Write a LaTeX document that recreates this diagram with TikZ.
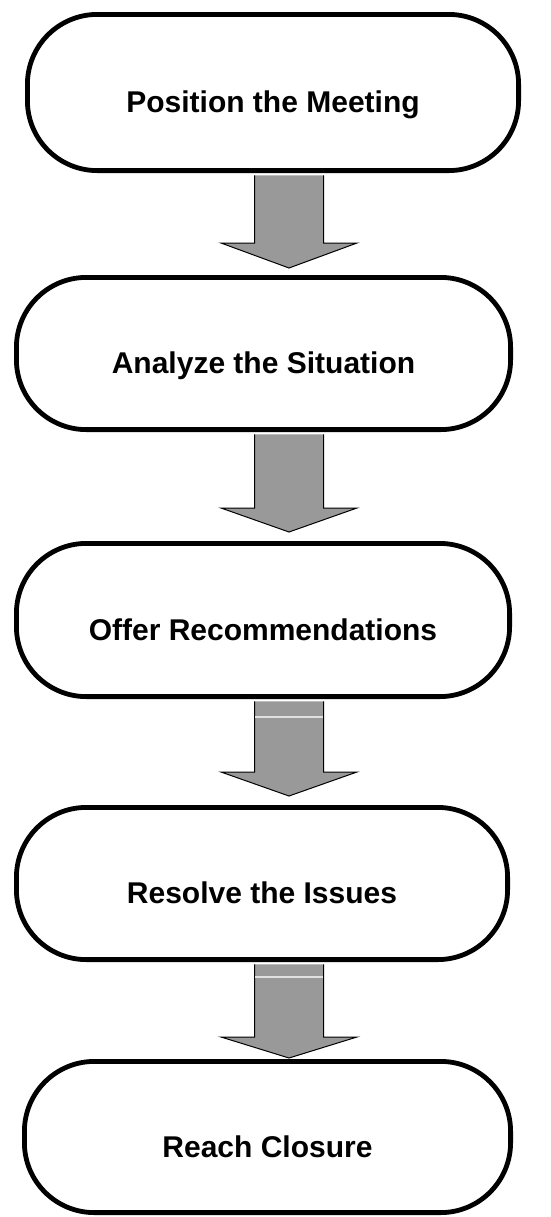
\documentclass[tikz,border=0pt]{standalone}
\usepackage{fontspec}
\setmainfont{Liberation Sans}
\usepackage{tikz}
\usetikzlibrary{calc}
\tikzset{
  stage/.style={draw=black, line width=2.4pt, fill=white, rounded corners=35pt, inner sep=0pt,
    text height=20pt, text depth=0pt, font=\fontsize{15}{18}\selectfont\bfseries},
  flow/.style={draw=black, line width=0.5pt, fill=black!40},
  seam/.style={draw=black!12, line width=1pt},
}
\newcommand{\flowarrow}[3]{%
  \draw[flow] ($(#1.south -| #3)+(-34.5,2.4)$) -- ($(#2)+(-34.5,0)$) -- ($(#2)+(-68,0)$) -- (#3)
    -- ($(#2)+(68,0)$) -- ($(#2)+(34.5,0)$) -- ($(#1.south -| #3)+(34.5,2.4)$);
}

\begin{document}
\begin{tikzpicture}[x=0.5pt, y=-0.5pt]
\useasboundingbox (0,0) rectangle (551,1217);
\coordinate (h1) at (289,243);
\coordinate (t1) at (289,268);
\coordinate (h2) at (289,508);
\coordinate (t2) at (289,532);
\coordinate (h3) at (289,772);
\coordinate (t3) at (289,796);
\coordinate (h4) at (289,1037);
\coordinate (t4) at (289,1058);
\coordinate (s3) at (289,717);
\coordinate (s4) at (289,977);
\node[stage, minimum width=245.6pt, minimum height=78.1pt] (position) at (273,92.5) {Position the Meeting};
\node[stage, minimum width=247.1pt, minimum height=76.1pt] (analyze) at (263.5,353.5) {Analyze the Situation};
\node[stage, minimum width=246.6pt, minimum height=76.6pt] (offer) at (263,620) {Offer Recommendations};
\node[stage, minimum width=245.6pt, minimum height=76.1pt] (resolve) at (262,883.5) {Resolve the Issues};
\node[stage, minimum width=243.1pt, minimum height=75.6pt] (closure) at (267.5,1137) {Reach Closure};
\flowarrow{position}{h1}{t1}
\flowarrow{analyze}{h2}{t2}
\flowarrow{offer}{h3}{t3}
\flowarrow{resolve}{h4}{t4}
\draw[seam] ($(s3)+(-34,0)$) -- ($(s3)+(34,0)$);
\draw[seam] ($(s4)+(-34,0)$) -- ($(s4)+(34,0)$);
\end{tikzpicture}
\end{document}
